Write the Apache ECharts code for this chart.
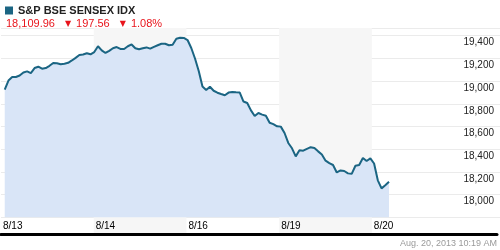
<!DOCTYPE html>
<html><head><meta charset="utf-8">
<script src="https://cdn.jsdelivr.net/npm/echarts@6/dist/echarts.min.js"></script>
<style>html,body{margin:0;padding:0;background:#fff}#c{width:500px;height:250px}</style>
</head><body><div id="c"></div>
<script>
const indexName = 'S&P BSE SENSEX IDX';
const lastValue = '18,109.96';
const changeAbs = '197.56';
const changePct = '1.08%';
const timestamp = 'Aug. 20, 2013 10:19 AM';
const dayLabels = ['8/13', '8/14', '8/16', '8/19', '8/20'];
const samplesPerDay = 25; // 15-minute samples per session
const day0813 = [null,18925,19005,19036,19036,19049,19076,19086,19071,19115,19127,19109,19115,19135,19160,19158,19149,19153,19161,19182,19205,19230,19234,19246,19236];
const day0814 = [19256,19307,19271,19248,19267,19290,19300,19284,19283,19307,19323,19289,19280,19289,19297,19286,19302,19316,19329,19329,19316,19321,19374,19382,19380];
const day0816 = [19362,19292,19199,19089,18952,18922,18950,18915,18898,18886,18875,18899,18904,18901,18899,18820,18807,18742,18692,18719,18705,18695,18633,18621,18602];
const day0819 = [18599,18543,18455,18408,18337,18390,18387,18403,18418,18411,18381,18354,18299,18277,18261,18195,18213,18208,18187,18183,18254,18261,18322,18296,18319];
const day0820 = [18274,18126,18055,18082,18113];
const yMin = 17800, yMax = 19468, yStep = 200;
const xMaxDays = 5.35;

const days = [day0813, day0814, day0816, day0819, day0820];
const seriesData = [];
days.forEach((arr, d) => arr.forEach((v, k) => { if (v != null) seriesData.push([d + k / samplesPerDay, v]); }));

const FONT = '"Liberation Sans", Arial, sans-serif';
const chart = echarts.init(document.getElementById('c'), null, {renderer: 'canvas'});
chart.setOption({
  animation: false,
  backgroundColor: '#fff',
  title: [
    {
      left: 1, top: 10,
      text: `{v|${lastValue}}  {a|▼} {v|${changeAbs}}  {a|▼} {v|${changePct}}`,
      textStyle: {fontWeight: 'normal', rich: {
        v: {color: '#e8141b', fontSize: 11, fontWeight: 'normal', fontFamily: FONT},
        a: {color: '#e8141b', fontSize: 8, fontWeight: 'normal', fontFamily: '"DejaVu Sans", sans-serif'}
      }}
    },
    {
      right: -2, top: 234, text: timestamp,
      textStyle: {color: '#9a9a9a', fontSize: 9, fontWeight: 'normal', fontFamily: FONT}
    }
  ],
  legend: {
    data: [indexName], left: 0, top: 0, icon: 'rect', itemWidth: 8, itemHeight: 8,
    selectedMode: false,
    textStyle: {color: '#222', fontSize: 11, fontWeight: 'bold', fontFamily: FONT}
  },
  grid: [
    {left: 1, right: 0, top: 28, bottom: 16},
    {left: 1, right: 0, top: 28, bottom: 32.7}
  ],
  xAxis: [
    {
      gridIndex: 0, type: 'value', min: 0, max: xMaxDays, interval: 1,
      axisLine: {show: true, lineStyle: {color: '#000', width: 3}},
      axisTick: {show: false},
      splitLine: {show: false},
      splitArea: {show: true, areaStyle: {color: ['rgba(255,255,255,0)', '#f6f6f6', 'rgba(255,255,255,0)', '#f6f6f6', 'rgba(255,255,255,0)', 'rgba(255,255,255,0)']}},
      axisLabel: {
        inside: true, margin: 3, align: 'left', padding: [0, 0, 0, 2],
        color: '#000', fontSize: 10, fontFamily: FONT,
        showMinLabel: true, showMaxLabel: true,
        formatter: v => (Number.isInteger(v) && dayLabels[v]) ? dayLabels[v] : ''
      }
    },
    {
      gridIndex: 1, type: 'value', min: 0, max: xMaxDays, interval: 1,
      show: false
    }
  ],
  yAxis: [
    {gridIndex: 0, type: 'value', min: 0, max: 1, show: false},
    {
      gridIndex: 1, type: 'value', position: 'right', min: yMin, max: yMax, interval: yStep,
      axisLine: {show: false}, axisTick: {show: false},
      splitLine: {show: true, lineStyle: {color: '#ebebeb', width: 1}},
      axisLabel: {
        inside: true, margin: 6, verticalAlign: 'top', padding: [2, 0, 0, 0],
        color: '#222', fontSize: 10, fontFamily: FONT,
        showMinLabel: true, showMaxLabel: true,
        formatter: v => (v % yStep === 0 && v > yMin) ? v.toLocaleString('en-US') : ''
      }
    }
  ],
  series: [{
    name: indexName, type: 'line', xAxisIndex: 1, yAxisIndex: 1,
    data: seriesData, showSymbol: false, symbol: 'none',
    lineStyle: {color: '#1b6583', width: 2},
    itemStyle: {color: '#1b6583'},
    areaStyle: {color: '#d9e5f7', opacity: 1},
    z: 3
  }]
});
</script>
</body></html>
